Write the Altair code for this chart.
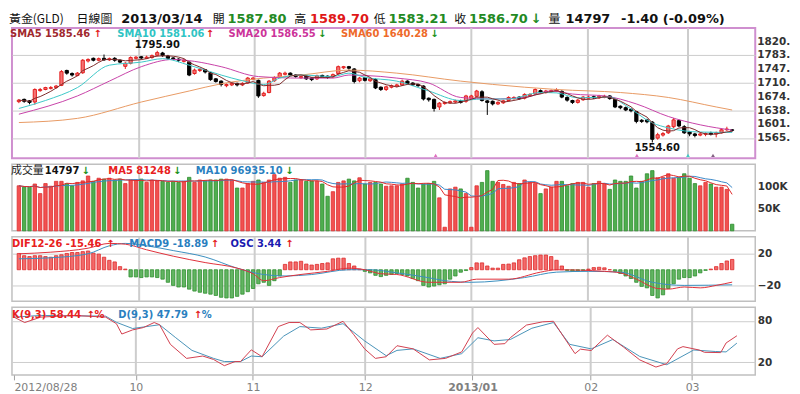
import altair as alt
import pandas as pd

# ---------------- data ----------------
opens = [
    1662, 1668, 1664, 1661, 1691, 1694, 1697, 1699, 1705, 1744,
    1736, 1731, 1738, 1769, 1776, 1771, 1776, 1772, 1776, 1771,
    1755, 1763, 1776, 1780, 1776, 1778, 1784, 1790, 1782, 1777,
    1774, 1768, 1766, 1736, 1744, 1746, 1738, 1722, 1716, 1704,
    1706, 1710, 1706, 1711, 1721, 1718, 1678, 1686, 1717, 1727,
    1734, 1737, 1732, 1725, 1729, 1724, 1722, 1731, 1729, 1727,
    1736, 1751, 1754, 1748, 1717, 1725, 1717, 1720, 1700, 1694,
    1700, 1703, 1706, 1716, 1711, 1707, 1703, 1671, 1668, 1648,
    1657, 1659, 1661, 1665, 1663, 1671, 1676, 1688, 1664, 1663,
    1656, 1659, 1665, 1670, 1674, 1671, 1678, 1682, 1691, 1686,
    1688, 1690, 1689, 1673, 1665, 1660, 1667, 1671, 1675, 1672,
    1674, 1677, 1668, 1650, 1646, 1642, 1636, 1613, 1614, 1608,
    1566, 1574, 1580, 1596, 1612, 1596, 1582, 1577, 1574, 1576,
    1579, 1577, 1580, 1588, 1587.8]
highs = [
    1669, 1670, 1666, 1697, 1698, 1701, 1703, 1706, 1745, 1746,
    1739, 1740, 1774, 1776, 1778, 1778, 1786, 1778, 1779, 1773,
    1766, 1781, 1782, 1782, 1783, 1786, 1795.9, 1793, 1785, 1779,
    1776, 1775, 1768, 1749, 1750, 1748, 1740, 1724, 1718, 1710,
    1713, 1712, 1713, 1727, 1727, 1720, 1688, 1719, 1729, 1740,
    1741, 1739, 1734, 1731, 1731, 1726, 1733, 1733, 1731, 1736,
    1757, 1756, 1756, 1750, 1727, 1727, 1725, 1723, 1702, 1704,
    1707, 1709, 1720, 1718, 1713, 1709, 1705, 1673, 1670, 1661,
    1663, 1665, 1667, 1667, 1680, 1680, 1693, 1692, 1666, 1665,
    1663, 1667, 1676, 1676, 1676, 1684, 1684, 1697, 1694, 1693,
    1694, 1697, 1692, 1676, 1667, 1669, 1677, 1678, 1678, 1680,
    1680, 1679, 1670, 1652, 1649, 1644, 1638, 1616, 1617, 1611,
    1580, 1582, 1601, 1619, 1615, 1600, 1585, 1580, 1581, 1581,
    1583, 1583, 1591, 1596, 1589.7]
lows = [
    1658, 1659, 1655, 1654, 1688, 1692, 1694, 1696, 1703, 1733,
    1728, 1729, 1735, 1765, 1768, 1768, 1769, 1769, 1767, 1763,
    1748, 1760, 1773, 1773, 1774, 1775, 1781, 1780, 1772, 1771,
    1766, 1765, 1729, 1733, 1740, 1736, 1717, 1712, 1702, 1700,
    1703, 1702, 1703, 1709, 1718, 1672, 1675, 1684, 1714, 1724,
    1731, 1729, 1725, 1722, 1719, 1716, 1719, 1725, 1722, 1724,
    1733, 1748, 1746, 1710, 1713, 1715, 1714, 1695, 1690, 1690,
    1697, 1700, 1703, 1707, 1703, 1701, 1665, 1662, 1636, 1640,
    1654, 1656, 1658, 1657, 1659, 1668, 1673, 1662, 1627, 1652,
    1653, 1656, 1662, 1667, 1667, 1668, 1675, 1679, 1683, 1683,
    1685, 1687, 1671, 1662, 1656, 1657, 1664, 1668, 1669, 1669,
    1671, 1667, 1645, 1642, 1637, 1634, 1605, 1606, 1605, 1554.6,
    1562, 1570, 1577, 1592, 1595, 1577, 1571, 1568, 1571, 1571,
    1573, 1568, 1578, 1585, 1583.21]
closes = [
    1666, 1663, 1660, 1694, 1694, 1699, 1699, 1703, 1741, 1737,
    1732, 1737, 1771, 1773, 1771, 1775, 1772, 1775, 1771, 1766,
    1763, 1778, 1779, 1777, 1779, 1783, 1791, 1783, 1776, 1775,
    1771, 1771, 1732, 1745, 1747, 1740, 1720, 1715, 1707, 1707,
    1710, 1706, 1710, 1724, 1724, 1677, 1684, 1716, 1725, 1737,
    1737, 1732, 1728, 1728, 1722, 1720, 1730, 1728, 1726, 1733,
    1754, 1754, 1750, 1715, 1724, 1718, 1722, 1698, 1694, 1701,
    1704, 1706, 1716, 1710, 1706, 1704, 1669, 1667, 1644, 1658,
    1660, 1662, 1664, 1660, 1677, 1677, 1690, 1665, 1660, 1656,
    1660, 1664, 1673, 1673, 1670, 1681, 1681, 1694, 1686, 1690,
    1691, 1694, 1674, 1666, 1660, 1666, 1674, 1674, 1672, 1676,
    1676, 1670, 1648, 1646, 1640, 1638, 1610, 1610, 1609, 1563,
    1575, 1578, 1598, 1614, 1598, 1580, 1577, 1573, 1577, 1578,
    1576, 1580, 1588, 1590, 1586.7]
volume_k = [
    101, 98, 98, 105, 83.5, 106, 100, 111, 111, 106,
    101, 108.6, 112, 123, 111, 118, 116, 118, 114, 116,
    106, 114, 114, 116, 108.6, 114, 112, 111, 108.6, 111,
    108.6, 111, 120, 108.6, 114, 112, 114, 114, 116, 116,
    114, 96, 96, 106, 111, 114, 108.6, 114, 126, 118,
    120, 108.6, 114, 114, 111, 112, 111, 105, 77.5, 87.8,
    108.6, 112, 116, 112, 119, 105, 108.6, 108.6, 105, 100,
    101, 101,
    105, 118, 108.6, 96, 105, 106, 111, 74, 8, 94,
    97.9, 94, 83.5, 8, 101, 108.6, 135, 111, 108.6, 104,
    100, 108.6, 106, 114, 108.6, 106, 83.5, 94, 98, 111,
    111, 101, 106, 108.6, 108.6, 98, 106, 111, 106, 93,
    114, 111, 111, 123, 96, 111, 128, 135, 119, 120,
    128, 118, 120, 128, 118, 106, 101, 108.6, 105, 98,
    98, 93, 14.797]
osc = [
    20.4, 17.6, 16.5, 17.6, 17.6, 16.5, 15.7, 17.6, 18.8, 20.4,
    21.6, 21.6, 22.7, 23.5, 20.8, 19.6, 15.7, 11.8, 9.8, 3.9,
    0.8,
    -9, -9, -9.8, -9, -9, -9.8, -11.8, -15.7, -19.6, -21.6,
    -21.6, -24.3, -26.7, -28.2, -29.4, -30.6, -32.2, -34.5, -35.3, -35.3,
    -33.3, -30.6, -27.5, -23.5, -17.6, -15.7, -19.6, -13.7, -7.8,
    6.7, 9.8, 9.8, 10.6, 7.1, 5.9, 6.7, 7.8, 8.6, 13.7, 14.5, 14.5, 7.8, 4.7, 0.8,
    -2, -3.9, -7, -8.6, -7, -5.9, -4.7, -5.9, -7.8, -11,
    -13.7, -19.6, -21.6, -20.4, -18.8, -17.6, -11.8, -7.8, -3.1, -1,
    2.7, 8.6, 8.6, 4.7, 2, 2, 6.7, 7.1, 8.6, 12.5, 14.9, 16.5, 17.6, 18.4, 18.4, 16.5, 11.8, 4.7,
    -0.8, -2, -1.2, -0.8, 0.8, 2.7, 3.1, 2.4, 0, -2,
    -4.7, -7.8, -11, -15.7, -20.8, -22.7, -32.2, -35.3, -31.4, -23.5,
    -17.6, -11.8, -9.8, -9.8, -7.8, -3.9, -0.8, 0.8, 3.9, 7.8, 11, 12.9]

sma10_day = [0, 5, 11, 17, 23, 27, 32, 38, 42, 46, 49, 53, 59, 62, 65, 71, 77, 83, 87, 92, 98, 101, 105, 111, 114, 119, 122, 128, 134]
sma10_val = [1644, 1665, 1699, 1758, 1766, 1775, 1758, 1732, 1717, 1707, 1724, 1732, 1728, 1737, 1726, 1716, 1690, 1665, 1669, 1669, 1686, 1685, 1672, 1674, 1652, 1606, 1593, 1582, 1581]
sma20_day = [0, 11, 17, 23, 29, 33, 38, 45, 53, 59, 62, 65, 71, 77, 83, 89, 95, 100, 104, 110, 116, 122, 128, 134]
sma20_val = [1629, 1677, 1716, 1754, 1773, 1768, 1754, 1728, 1724, 1724, 1732, 1731, 1724, 1711, 1673, 1669, 1673, 1690, 1682, 1677, 1656, 1623, 1601, 1587]
sma60_day = [0, 11, 23, 32, 38, 46, 53, 62, 71, 83, 95, 101, 113, 122, 131, 134]
sma60_val = [1607, 1618, 1661, 1690, 1709, 1724, 1732, 1745, 1737, 1716, 1700, 1694, 1686, 1673, 1648, 1640]

dif_day = [0, 6, 13, 17, 20, 24, 29, 35, 41, 44, 46, 49, 53, 58, 62, 65, 68, 71, 77, 83, 86, 92, 98, 101, 110, 113, 116, 120, 122, 125, 128, 131, 134]
dif_val = [20, 22, 27, 33, 32, 25, 17, 9, 2, -5, -13.7, -9.8, -5.9, -2, 2, 0, -5, -5.9, -15.7, -15.7, -11.8, -11.8, -3, 0, -2, -3.9, -11.8, -23.5, -24.3, -21.6, -22.7, -19.6, -15.5]
macd_day = [0, 6, 13, 17, 20, 24, 29, 35, 41, 46, 50, 55, 62, 66, 71, 77, 80, 85, 95, 101, 107, 113, 119, 125, 134]
macd_val = [13.7, 15, 20, 30, 33, 30, 24, 16, 2, -6, -7.8, -6, 0, 0, -3.9, -10, -13.7, -15.7, -9.8, -3, -2, -3, -15.7, -19.6, -18.9]

k_day = [0, 2, 5, 11, 17, 19, 20, 22, 24, 26, 27, 29, 32, 35, 37, 39, 41, 42, 44, 46,
         49, 51, 53, 55, 58, 61, 63, 65, 67, 69, 71, 74, 77, 80, 83, 85, 86, 89, 91, 92,
         95, 98, 100, 102, 104, 105, 107, 110, 113, 116, 119, 121, 123, 124, 127, 128, 131, 132, 134]
k_val = [85.6, 77.7, 85.6, 88, 85.6, 76, 61, 67, 70.4, 77.7, 74.5, 46, 25.6, 29, 24, 15, 21, 21, 38, 28,
         71.8, 77.7, 77.7, 67, 68.3, 79.5, 60, 39.4, 25.6, 28, 44, 39.4, 23.4, 25.6, 35, 62.5, 70.4, 46, 47, 55.6,
         74, 78.7, 79.5, 55.6, 32.5, 39, 37, 59.3, 42, 23.4, 13, 18, 39.4, 42.7, 37.8, 34.4, 34, 48, 58.44]
d_day = [0, 5, 17, 19, 22, 27, 30, 33, 37, 39, 42, 44, 46, 50, 53, 57, 61, 65, 69, 71,
         74, 79, 83, 86, 89, 92, 96, 100, 103, 107, 111, 116, 121, 126, 130, 132, 134]
d_val = [85.6, 88, 87, 78, 69, 74.5, 55.6, 37.2, 25.6, 21, 21, 29, 28, 58, 71.8, 69.5, 76, 51, 29.5, 37.2,
         39.4, 25.6, 32.5, 55.6, 51, 53, 69.4, 77.7, 46, 39.4, 53, 28.4, 16.4, 37.8, 35.6, 35, 47.79]

event_day = [78.3, 116.1, 125.7, 130.4]
event_col = ["#e070c0", "#e070c0", "#40c8c8", "#806080"]

month_pos = [22.6, 44.3, 65.1, 85, 106.9, 125.7]
xtick_pos = [0] + month_pos
xtick_lab = ["2012/08/28", "10", "11", "12", "2013/01", "02", "03"]
price_ticks = [1565.5, 1601.9, 1638.3, 1674.7, 1710.9, 1747.3, 1783.7, 1820.1]

# ---------------- layout ----------------
W = 748
H_P, H_V, H_M, H_K = 131, 67, 65, 68
XDOM = [-0.36, 137.4]
FONT = "DejaVu Sans"
CJK = "Noto Sans CJK TC"
RED = "#e41e1e"
GREEN = "#1a921a"
GRIDC = "#cdcdcd"
LABSZ = 10.5
AXLAB = dict(orient="right", domain=False, ticks=False, labelFont=FONT, labelFontSize=LABSZ,
             labelFontWeight="bold", labelColor="#333333", labelPadding=2, title=None,
             gridColor=GRIDC, gridWidth=1, labelOverlap=False)

N = len(closes)
df = pd.DataFrame({"i": list(range(N)), "o": opens, "h": highs, "l": lows,
                   "c": closes, "vol": volume_k, "osc": osc})
base = alt.Chart(df)
X = alt.X("i:Q", scale=alt.Scale(domain=XDOM, nice=False, zero=False), axis=None)

mids = [(xtick_pos[j] + xtick_pos[j + 1]) / 2 for j in range(len(xtick_pos) - 1)]
expr = "'%s'" % xtick_lab[-1]
for j in range(len(mids) - 1, -1, -1):
    expr = "datum.value < %s ? '%s' : %s" % (mids[j], xtick_lab[j], expr)
XK = alt.X("i:Q", scale=alt.Scale(domain=XDOM, nice=False, zero=False),
           axis=alt.Axis(values=xtick_pos, labelExpr=expr, grid=False, domain=False,
                         ticks=True, tickColor="#a0a0a0", tickSize=5, labelColor="#808080",
                         labelFont=FONT, labelFontSize=11, labelFlush=10, labelPadding=2,
                         labelFontWeight=alt.condition("datum.value == 85", alt.value("bold"), alt.value("normal")),
                         title=None))


def series(days, vals):
    return pd.DataFrame({"i": days, "v": vals})


def texts(rows, size=10, weight="bold", font=FONT):
    d = pd.DataFrame(rows, columns=["t", "px", "py", "col"])
    return alt.Chart(d).mark_text(align="left", baseline="middle", font=font,
                                  fontSize=size, fontWeight=weight).encode(
        x=alt.X("px:Q", scale=None, axis=None),
        y=alt.Y("py:Q", scale=None, axis=None),
        text="t:N",
        color=alt.Color("col:N", scale=None, legend=None))


def grid_rules(xenc):
    return alt.Chart(pd.DataFrame({"i": month_pos})).mark_rule(
        color=GRIDC, strokeWidth=2).encode(x=xenc)


UP = "datum.c >= datum.o"
DN = "datum.c < datum.o"

# ---------------- price panel ----------------
ys = alt.Scale(domain=[1513, 1855.5], nice=False, zero=False)
wick_up = base.transform_filter(UP).mark_rule(color=RED, strokeWidth=1).encode(
    x=X, y=alt.Y("l:Q", scale=ys, axis=alt.Axis(values=price_ticks, grid=True, labels=False,
                                               orient="right", domain=False, ticks=False, title=None,
                                               gridColor=GRIDC, gridWidth=1)),
    y2="h:Q")
wick_dn = base.transform_filter(DN).mark_rule(color="#000000", strokeWidth=1).encode(
    x=X, y=alt.Y("l:Q", scale=ys), y2="h:Q")
body_up = base.transform_filter(UP).mark_bar(size=3.2, fill="#f47474", stroke=RED, strokeWidth=1).encode(
    x=X, y=alt.Y("o:Q", scale=ys), y2="c:Q")
body_dn = base.transform_filter(DN).mark_bar(size=3.2, fill="#000000", stroke="#000000", strokeWidth=1).encode(
    x=X, y=alt.Y("o:Q", scale=ys), y2="c:Q")
sma5 = base.transform_window(sma5="mean(c)", frame=[-4, 0], sort=[alt.SortField("i")]).mark_line(
    color="#7d2b2b", strokeWidth=1).encode(x=X, y=alt.Y("sma5:Q", scale=ys))


def mline(days, vals, color, scale, xenc=X, interp="monotone"):
    return alt.Chart(series(days, vals)).mark_line(color=color, strokeWidth=1, interpolate=interp).encode(
        x=xenc, y=alt.Y("v:Q", scale=scale))


sma10 = mline(sma10_day, sma10_val, "#3cc8c8", ys)
sma20 = mline(sma20_day, sma20_val, "#c843a8", ys)
sma60 = mline(sma60_day, sma60_val, "#e89a64", ys)

plabels = alt.Chart(pd.DataFrame({"v": price_ticks, "t": ["%d." % int(v) for v in price_ticks]})).mark_text(
    align="left", baseline="middle", font=FONT, fontSize=LABSZ, fontWeight="bold", color="#333333", dx=2).encode(
    x=alt.value(W), y=alt.Y("v:Q", scale=ys), text="t:N")

pk = highs.index(max(highs))
tr = lows.index(min(lows))
ann_hi = alt.Chart(pd.DataFrame({"i": [pk], "v": [highs[pk]], "t": ["%.2f" % highs[pk]]})).mark_text(
    font=FONT, fontSize=10, fontWeight="bold", baseline="bottom", dy=-1, color="#111111").encode(
    x=X, y=alt.Y("v:Q", scale=ys), text="t:N")
ann_lo = alt.Chart(pd.DataFrame({"i": [tr], "v": [lows[tr]], "t": ["%.2f" % lows[tr]]})).mark_text(
    font=FONT, fontSize=10, fontWeight="bold", baseline="top", dy=1, dx=5, color="#111111").encode(
    x=X, y=alt.Y("v:Q", scale=ys), text="t:N")
events = alt.Chart(pd.DataFrame({"i": event_day, "col": event_col})).mark_point(
    shape="triangle-up", filled=True, size=14, opacity=1).encode(
    x=X, y=alt.value(H_P - 3), color=alt.Color("col:N", scale=None, legend=None))

price_leg = texts([
    ("SMA5 1585.46", -2, 6, "#a0282d"), ("↑", 82, 6, RED),
    ("SMA10 1581.06", 106, 6, "#2fc4c4"), ("↑", 195, 6, RED),
    ("SMA20 1586.55", 218, 6, "#cc3399"), ("↓", 308, 6, GREEN),
    ("SMA60 1640.28", 331, 6, "#ee6a2a"), ("↓", 421, 6, GREEN),
])
head_cjk = texts([
    ("黃金(GLD)", -3, -9, "#111111"), ("日線圖", 65, -9, "#111111"),
    ("開", 202, -9, "#111111"), ("高", 284, -9, "#111111"),
    ("低", 364, -9, "#111111"), ("收", 445, -9, "#111111"), ("量", 540, -9, "#111111"),
], size=12, weight="normal", font=CJK)
head_num = texts([
    ("2013/03/14", 110, -9, "#111111"), ("1587.80", 217, -9, "#238a23"),
    ("1589.70", 300, -9, "#e01818"), ("1583.21", 379, -9, "#238a23"),
    ("1586.70", 460, -9, "#238a23"), ("↓", 522, -9, "#238a23"),
    ("14797", 557, -9, "#111111"), ("-1.40 (-0.09%)", 613, -9, "#111111"),
], size=13)

price = alt.layer(grid_rules(X), wick_up, wick_dn, body_up, body_dn, sma60, sma20, sma10, sma5,
                  events, ann_hi, ann_lo, plabels, price_leg, head_cjk, head_num).properties(
    width=W, height=H_P, view=alt.ViewBackground(stroke="#cf8fcf", strokeWidth=2))

# ---------------- volume panel ----------------
yv = alt.Scale(domain=[0, 149.4], nice=False)
vol_up = base.transform_filter(UP).mark_bar(size=3.4, fill="#f25050", stroke="#dd3030", strokeWidth=0.8).encode(
    x=X, y=alt.Y("vol:Q", scale=yv, axis=alt.Axis(values=[50, 100], grid=False,
                                                 labelExpr="datum.value + 'K'", **AXLAB)))
vol_dn = base.transform_filter(DN).mark_bar(size=3.4, fill="#4fae4f", stroke="#2f8c2f", strokeWidth=0.8).encode(
    x=X, y=alt.Y("vol:Q", scale=yv))
vma5 = base.transform_window(m5="mean(vol)", frame=[-4, 0], sort=[alt.SortField("i")]).mark_line(
    color="#e02a2a", strokeWidth=1).encode(x=X, y=alt.Y("m5:Q", scale=yv))
vma10 = base.transform_window(m10="mean(vol)", frame=[-9, 0], sort=[alt.SortField("i")]).mark_line(
    color="#3a88c8", strokeWidth=1).encode(x=X, y=alt.Y("m10:Q", scale=yv))
vol_leg_cjk = texts([("成交量", -1, 7, "#222222")], size=11, weight="normal", font=CJK)
vol_leg = texts([
    ("14797", 33, 7, "#111111"), ("↓", 70, 7, GREEN),
    ("MA5 81248", 97, 7, "#e82020"), ("↓", 162, 7, GREEN),
    ("MA10 96935.10", 185, 7, "#2a7fc0"), ("↓", 275, 7, GREEN),
])
volume = alt.layer(grid_rules(X), vol_up, vol_dn, vma10, vma5, vol_leg_cjk, vol_leg).properties(
    width=W, height=H_V, view=alt.ViewBackground(stroke="#c0c0c0", strokeWidth=1.5))

# ---------------- MACD panel ----------------
ym = alt.Scale(domain=[-39.6, 41.3], nice=False, zero=False)
osc_pos = base.transform_filter("datum.osc >= 0").mark_bar(size=3.4, fill="#f36a6a", stroke="#dd2b2b", strokeWidth=0.8).encode(
    x=X, y=alt.Y("osc:Q", scale=ym, axis=alt.Axis(values=[-20, 0, 20], grid=True, **AXLAB)))
osc_neg = base.transform_filter("datum.osc < 0").mark_bar(size=3.4, fill="#62b562", stroke="#2f8f2f", strokeWidth=0.8).encode(
    x=X, y=alt.Y("osc:Q", scale=ym))
dif_line = mline(dif_day, dif_val, "#e0303a", ym)
macd_line = mline(macd_day, macd_val, "#3a8fc0", ym)
macd_leg = texts([
    ("DIF12-26 -15.46", 0, 7, "#e82020"), ("↑", 95, 7, RED),
    ("MACD9 -18.89", 118, 7, "#2a7fc0"), ("↑", 200, 7, RED),
    ("OSC 3.44", 220, 7, "#1a1ab0"), ("↑", 275, 7, RED),
])
macd = alt.layer(grid_rules(X), osc_pos, osc_neg, macd_line, dif_line, macd_leg).properties(
    width=W, height=H_M, view=alt.ViewBackground(stroke="#c0c0c0", strokeWidth=1.5))

# ---------------- KD panel ----------------
yk = alt.Scale(domain=[1.6, 99.8], nice=False, zero=False)
d_line = alt.Chart(series(d_day, d_val)).mark_line(color="#4a93b8", strokeWidth=1).encode(
    x=XK, y=alt.Y("v:Q", scale=yk, axis=alt.Axis(values=[20, 50, 80], grid=True, **AXLAB)))
k_line = alt.Chart(series(k_day, k_val)).mark_line(color="#d2404f", strokeWidth=1).encode(
    x=XK, y=alt.Y("v:Q", scale=yk))
kd_leg = texts([
    ("K(9,3) 58.44", 0, 8, "#e82020"), ("↑", 75, 8, RED), ("%", 83, 8, "#e82020"),
    ("D(9,3) 47.79", 107, 8, "#2a7fc0"), ("↑", 183, 8, RED), ("%", 191, 8, "#2a7fc0"),
])
kd = alt.layer(grid_rules(XK), d_line, k_line, kd_leg).properties(
    width=W, height=H_K, view=alt.ViewBackground(stroke="#c0c0c0", strokeWidth=1.5))

chart = alt.vconcat(price, volume, macd, kd, spacing=2).properties(
    padding={"left": 0, "top": 3, "right": 0, "bottom": 0},
    background="white")

chart.save("out.html", embed_options={"renderer": "svg", "actions": False})
